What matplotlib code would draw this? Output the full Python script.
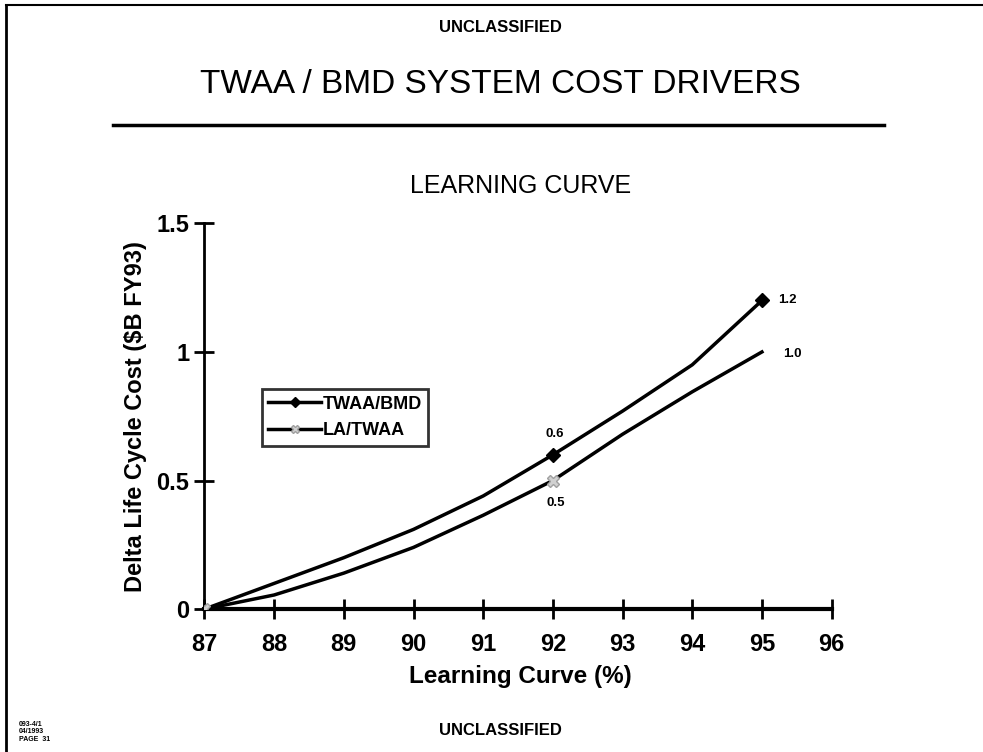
import matplotlib.pyplot as plt
from matplotlib.lines import Line2D

plt.rcParams['font.family'] = ['Liberation Sans', 'DejaVu Sans']

# learning curve (%) and delta life cycle cost ($B FY93)
learning = [87, 88, 89, 90, 91, 92, 93, 94, 95]
twaa_bmd = [0.0, 0.10, 0.20, 0.31, 0.44, 0.60, 0.77, 0.95, 1.20]
la_twaa = [0.0, 0.055, 0.14, 0.24, 0.365, 0.50, 0.68, 0.845, 1.00]

# labelled points
label_x = [92, 95]
twaa_labels = ['0.6', '1.2']
la_labels = ['0.5', '1.0']

xticks = [87, 88, 89, 90, 91, 92, 93, 94, 95, 96]
yticks = [0, 0.5, 1, 1.5]

fig = plt.figure(figsize=(9.83, 7.52), dpi=100)
ax = fig.add_axes([0.208, 0.190, 0.638, 0.513])

ax.plot(learning, twaa_bmd, color='black', lw=2.5, marker='D', ms=7,
        markevery=[5, 8], label='TWAA/BMD', zorder=3)
ax.plot(learning, la_twaa, color='black', lw=2.5, marker='X', ms=8,
        mfc='#d0d0d0', mec='#a0a0a0', markevery=[0, 5], label='LA/TWAA', zorder=3)

# point labels
ax.annotate(twaa_labels[0], (label_x[0], twaa_bmd[5]), xytext=(1, 11), textcoords='offset points',
            ha='center', va='bottom', fontsize=9.5, fontweight='bold')
ax.annotate(twaa_labels[1], (label_x[1], twaa_bmd[8]), xytext=(12, 0), textcoords='offset points',
            ha='left', va='center', fontsize=9.5, fontweight='bold')
ax.annotate(la_labels[0], (label_x[0], la_twaa[5]), xytext=(2, -12), textcoords='offset points',
            ha='center', va='top', fontsize=9.5, fontweight='bold')
ax.annotate(la_labels[1], (label_x[1], la_twaa[8]), xytext=(15, -6), textcoords='offset points',
            ha='left', va='bottom', fontsize=9.5, fontweight='bold')

ax.set_xlim(87, 96)
ax.set_ylim(0, 1.5)
ax.set_xticks(xticks)
ax.set_yticks(yticks)
ax.set_yticklabels(['0', '0.5', '1', '1.5'])
ax.tick_params(direction='inout', length=14, width=2, labelsize=17)
ax.tick_params(axis='x', pad=10)
ax.tick_params(axis='y', pad=4)
for lab in ax.get_xticklabels() + ax.get_yticklabels():
    lab.set_fontweight('bold')
ax.spines['top'].set_visible(False)
ax.spines['right'].set_visible(False)
ax.spines['left'].set_linewidth(2)
ax.spines['bottom'].set_linewidth(3)

ax.set_xlabel('Learning Curve (%)', fontsize=17.5, fontweight='bold')
ax.xaxis.set_label_coords(0.503, -0.145)
ax.set_ylabel('Delta Life Cycle Cost ($B FY93)', fontsize=17, fontweight='bold', labelpad=7)

leg = ax.legend(loc='upper left', bbox_to_anchor=(0.092, 0.570),
                prop={'weight': 'bold', 'size': 13}, frameon=True, fancybox=False,
                handlelength=2.9, borderpad=0.35, labelspacing=0.55, handletextpad=0.1,
                borderaxespad=0, markerscale=0.8)
leg.get_frame().set_edgecolor('black')
leg.get_frame().set_linewidth(2)

# page text
fig.text(0.509, 0.963, 'UNCLASSIFIED', ha='center', va='center', fontsize=12, fontweight='bold')
fig.text(0.509, 0.888, 'TWAA / BMD SYSTEM COST DRIVERS', ha='center', va='center', fontsize=24)
fig.text(0.530, 0.753, 'LEARNING CURVE', ha='center', va='center', fontsize=18)
fig.text(0.509, 0.028, 'UNCLASSIFIED', ha='center', va='center', fontsize=12, fontweight='bold')
fig.text(0.019, 0.027, '093-4/1\n04/1993\nPAGE  31', ha='left', va='center', fontsize=5,
         fontweight='bold', linespacing=1.1)

# page border and title rule
fig.add_artist(Line2D([0.115, 0.899], [0.834, 0.834], color='black', lw=2.5))
fig.add_artist(Line2D([0.006, 0.006], [0.0, 0.994], color='black', lw=2))
fig.add_artist(Line2D([0.006, 1.0], [0.994, 0.994], color='black', lw=1.5))

plt.savefig('out.png', dpi=100)
